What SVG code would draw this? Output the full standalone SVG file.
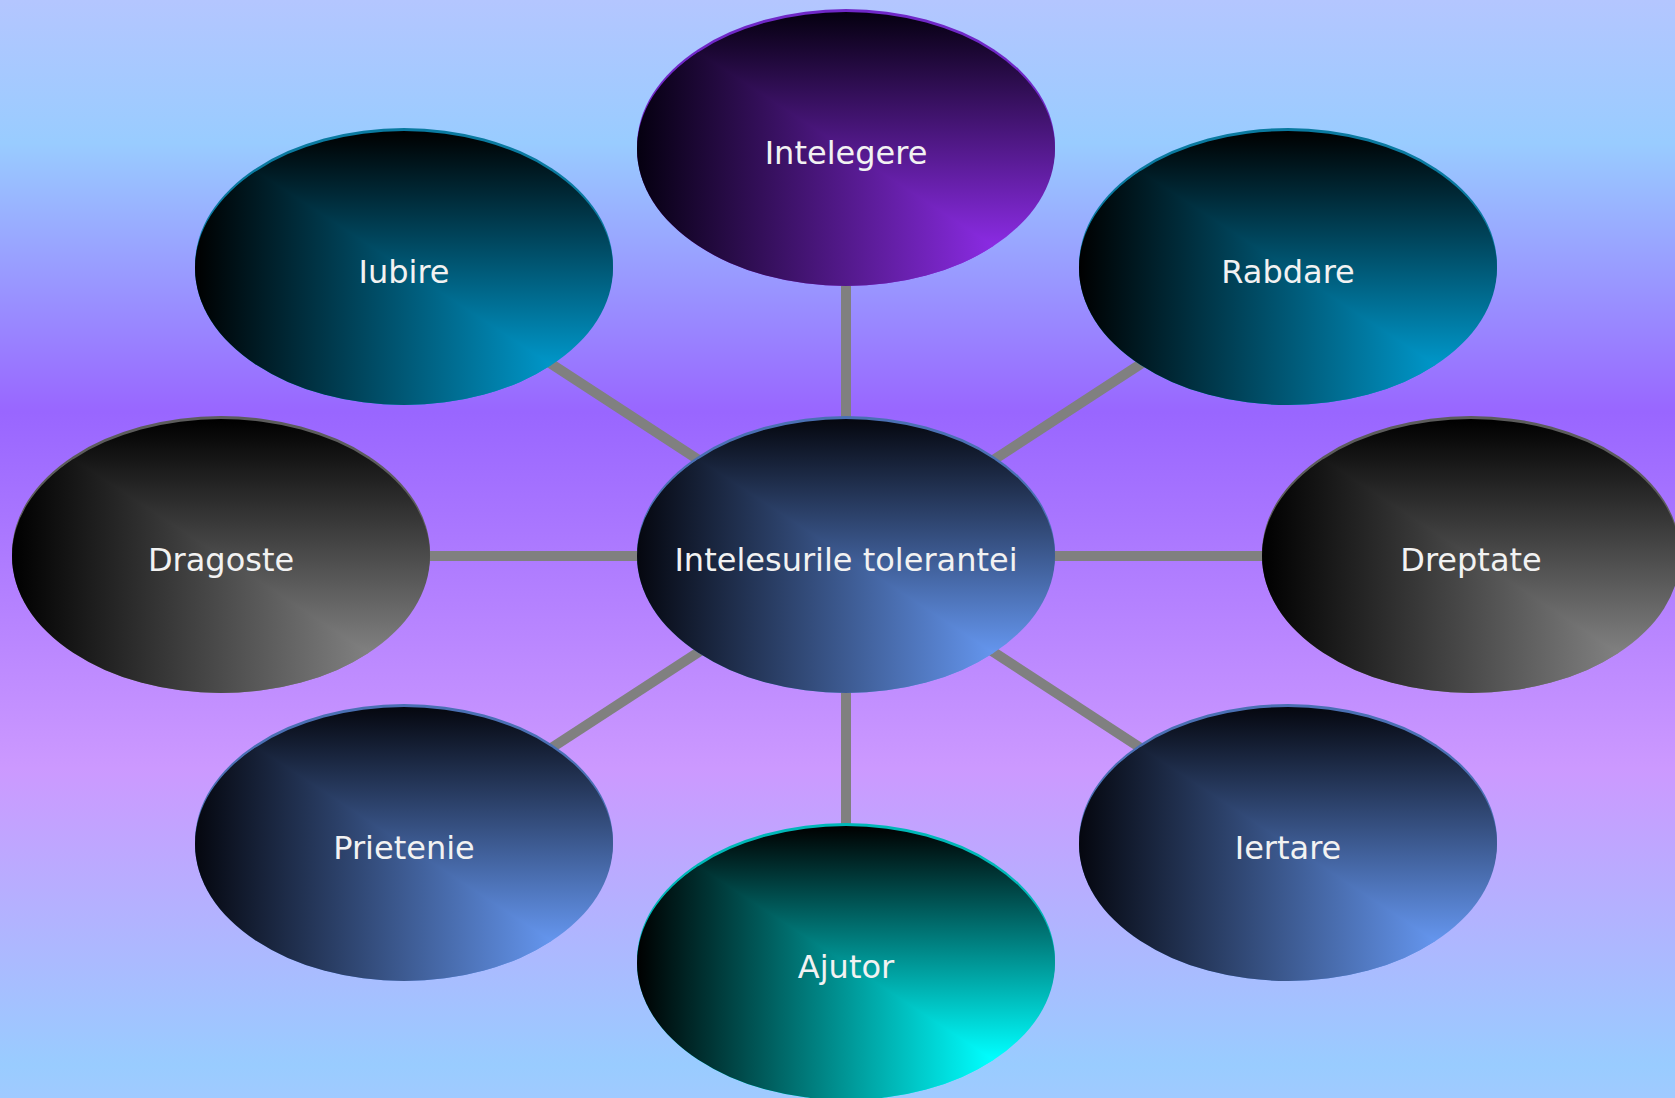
<svg xmlns="http://www.w3.org/2000/svg" width="1675" height="1098" viewBox="0 0 1675 1098">
<style>
.lbl{font-family:"DejaVu Sans","Verdana",sans-serif;font-size:32px;fill:#f2f2f2;text-anchor:middle}
.conn{stroke:#808080;stroke-width:10;fill:none}
</style>
<defs>
<linearGradient id="bg" x1="0" y1="0" x2="0" y2="1">
<stop offset="0" stop-color="#b4c6ff"/>
<stop offset="0.13" stop-color="#99ccff"/>
<stop offset="0.375" stop-color="#9966ff"/>
<stop offset="0.70" stop-color="#cc99ff"/>
<stop offset="0.97" stop-color="#99ccff"/>
<stop offset="1" stop-color="#a0caff"/>
</linearGradient>
<clipPath id="clipE" clipPathUnits="userSpaceOnUse"><ellipse cx="0" cy="0" rx="209" ry="137"/></clipPath>
<linearGradient id="purV" x1="0" y1="0" x2="0" y2="1"><stop offset="0" stop-color="#050010"/><stop offset="0.85" stop-color="#8a2be2"/><stop offset="1" stop-color="#8a2be2"/></linearGradient>
<linearGradient id="purH" x1="0" y1="0" x2="1" y2="0"><stop offset="0" stop-color="#050010"/><stop offset="0.85" stop-color="#8a2be2"/><stop offset="1" stop-color="#8a2be2"/></linearGradient>
<linearGradient id="tealV" x1="0" y1="0" x2="0" y2="1"><stop offset="0" stop-color="#000000"/><stop offset="0.85" stop-color="#0096c8"/><stop offset="1" stop-color="#0096c8"/></linearGradient>
<linearGradient id="tealH" x1="0" y1="0" x2="1" y2="0"><stop offset="0" stop-color="#000000"/><stop offset="0.85" stop-color="#0096c8"/><stop offset="1" stop-color="#0096c8"/></linearGradient>
<linearGradient id="grayV" x1="0" y1="0" x2="0" y2="1"><stop offset="0" stop-color="#000000"/><stop offset="0.85" stop-color="#808080"/><stop offset="1" stop-color="#808080"/></linearGradient>
<linearGradient id="grayH" x1="0" y1="0" x2="1" y2="0"><stop offset="0" stop-color="#000000"/><stop offset="0.85" stop-color="#808080"/><stop offset="1" stop-color="#808080"/></linearGradient>
<linearGradient id="blueV" x1="0" y1="0" x2="0" y2="1"><stop offset="0" stop-color="#05070f"/><stop offset="0.85" stop-color="#6495ed"/><stop offset="1" stop-color="#6495ed"/></linearGradient>
<linearGradient id="blueH" x1="0" y1="0" x2="1" y2="0"><stop offset="0" stop-color="#05070f"/><stop offset="0.85" stop-color="#6495ed"/><stop offset="1" stop-color="#6495ed"/></linearGradient>
<linearGradient id="cyanV" x1="0" y1="0" x2="0" y2="1"><stop offset="0" stop-color="#000000"/><stop offset="0.85" stop-color="#00ffff"/><stop offset="1" stop-color="#00ffff"/></linearGradient>
<linearGradient id="cyanH" x1="0" y1="0" x2="1" y2="0"><stop offset="0" stop-color="#000000"/><stop offset="0.85" stop-color="#00ffff"/><stop offset="1" stop-color="#00ffff"/></linearGradient>
</defs>

<rect x="0" y="0" width="1675" height="1098" fill="url(#bg)"/>

<g id="connectors">
<line class="conn" x1="846" y1="556" x2="846" y2="149"/>
<line class="conn" x1="846" y1="556" x2="846" y2="963"/>
<line class="conn" x1="846" y1="556" x2="221" y2="556"/>
<line class="conn" x1="846" y1="556" x2="1471" y2="556"/>
<line class="conn" x1="846" y1="556" x2="404" y2="268"/>
<line class="conn" x1="846" y1="556" x2="1288" y2="268"/>
<line class="conn" x1="846" y1="556" x2="404" y2="844"/>
<line class="conn" x1="846" y1="556" x2="1288" y2="844"/>
</g>

<g id="node-intelegere" transform="translate(846,149)">
<ellipse cx="0" cy="-3" rx="209" ry="137" fill="#7028c8"/>
<ellipse cx="0" cy="0" rx="209" ry="137" fill="url(#purV)"/>
<path d="M-209,-137 L-209,137 L209,137 Z" fill="url(#purH)" clip-path="url(#clipE)"/>
<text class="lbl" x="0" y="15">Intelegere</text>
</g>

<g id="node-iubire" transform="translate(404,268)">
<ellipse cx="0" cy="-3" rx="209" ry="137" fill="#0a7aa0"/>
<ellipse cx="0" cy="0" rx="209" ry="137" fill="url(#tealV)"/>
<path d="M-209,-137 L-209,137 L209,137 Z" fill="url(#tealH)" clip-path="url(#clipE)"/>
<text class="lbl" x="0" y="15">Iubire</text>
</g>

<g id="node-rabdare" transform="translate(1288,268)">
<ellipse cx="0" cy="-3" rx="209" ry="137" fill="#0a7aa0"/>
<ellipse cx="0" cy="0" rx="209" ry="137" fill="url(#tealV)"/>
<path d="M-209,-137 L-209,137 L209,137 Z" fill="url(#tealH)" clip-path="url(#clipE)"/>
<text class="lbl" x="0" y="15">Rabdare</text>
</g>

<g id="node-dragoste" transform="translate(221,556)">
<ellipse cx="0" cy="-3" rx="209" ry="137" fill="#5c5c5c"/>
<ellipse cx="0" cy="0" rx="209" ry="137" fill="url(#grayV)"/>
<path d="M-209,-137 L-209,137 L209,137 Z" fill="url(#grayH)" clip-path="url(#clipE)"/>
<text class="lbl" x="0" y="15">Dragoste</text>
</g>

<g id="node-center" transform="translate(846,556)">
<ellipse cx="0" cy="-3" rx="209" ry="137" fill="#4a70b4"/>
<ellipse cx="0" cy="0" rx="209" ry="137" fill="url(#blueV)"/>
<path d="M-209,-137 L-209,137 L209,137 Z" fill="url(#blueH)" clip-path="url(#clipE)"/>
<text class="lbl" x="0" y="15">Intelesurile tolerantei</text>
</g>

<g id="node-dreptate" transform="translate(1471,556)">
<ellipse cx="0" cy="-3" rx="209" ry="137" fill="#5c5c5c"/>
<ellipse cx="0" cy="0" rx="209" ry="137" fill="url(#grayV)"/>
<path d="M-209,-137 L-209,137 L209,137 Z" fill="url(#grayH)" clip-path="url(#clipE)"/>
<text class="lbl" x="0" y="15">Dreptate</text>
</g>

<g id="node-prietenie" transform="translate(404,844)">
<ellipse cx="0" cy="-3" rx="209" ry="137" fill="#4a70b4"/>
<ellipse cx="0" cy="0" rx="209" ry="137" fill="url(#blueV)"/>
<path d="M-209,-137 L-209,137 L209,137 Z" fill="url(#blueH)" clip-path="url(#clipE)"/>
<text class="lbl" x="0" y="15">Prietenie</text>
</g>

<g id="node-iertare" transform="translate(1288,844)">
<ellipse cx="0" cy="-3" rx="209" ry="137" fill="#4a70b4"/>
<ellipse cx="0" cy="0" rx="209" ry="137" fill="url(#blueV)"/>
<path d="M-209,-137 L-209,137 L209,137 Z" fill="url(#blueH)" clip-path="url(#clipE)"/>
<text class="lbl" x="0" y="15">Iertare</text>
</g>

<g id="node-ajutor" transform="translate(846,963)">
<ellipse cx="0" cy="-3" rx="209" ry="137" fill="#00b8b8"/>
<ellipse cx="0" cy="0" rx="209" ry="137" fill="url(#cyanV)"/>
<path d="M-209,-137 L-209,137 L209,137 Z" fill="url(#cyanH)" clip-path="url(#clipE)"/>
<text class="lbl" x="0" y="15">Ajutor</text>
</g>
</svg>
